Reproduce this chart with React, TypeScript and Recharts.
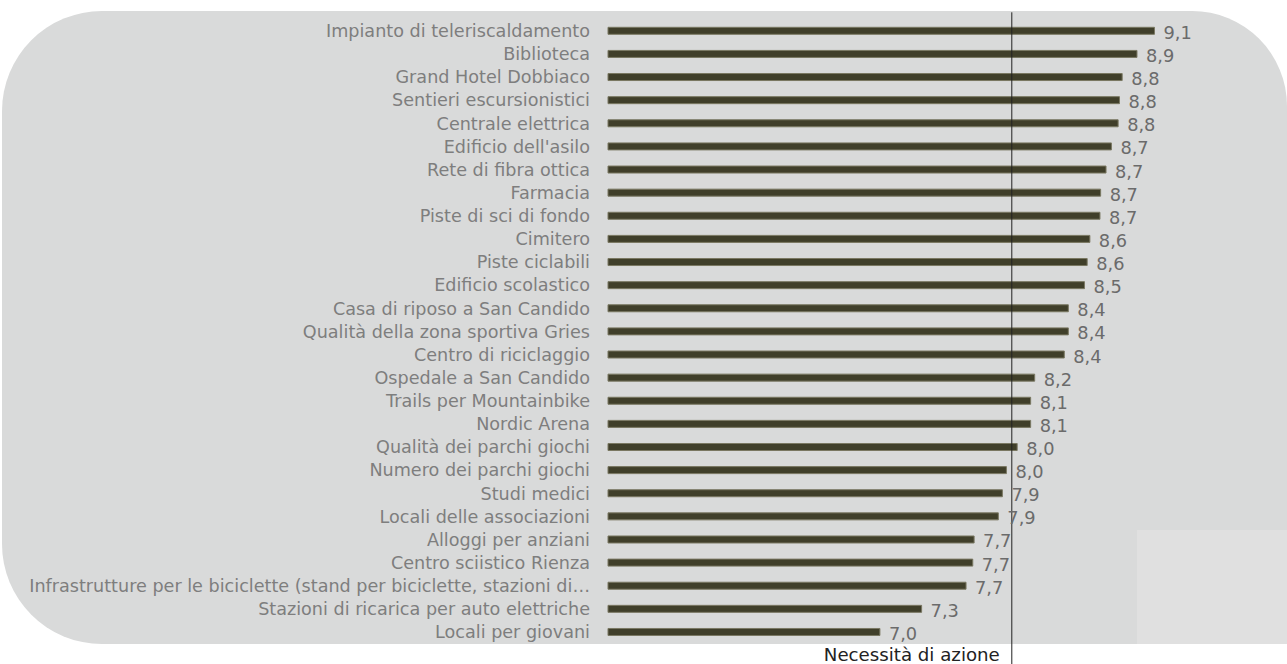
import { BarChart, Bar, XAxis, YAxis, ReferenceLine, LabelList } from "recharts";

const categories = [
  "Impianto di teleriscaldamento",
  "Biblioteca",
  "Grand Hotel Dobbiaco",
  "Sentieri escursionistici",
  "Centrale elettrica",
  "Edificio dell'asilo",
  "Rete di fibra ottica",
  "Farmacia",
  "Piste di sci di fondo",
  "Cimitero",
  "Piste ciclabili",
  "Edificio scolastico",
  "Casa di riposo a San Candido",
  "Qualità della zona sportiva Gries",
  "Centro di riciclaggio",
  "Ospedale a San Candido",
  "Trails per Mountainbike",
  "Nordic Arena",
  "Qualità dei parchi giochi",
  "Numero dei parchi giochi",
  "Studi medici",
  "Locali delle associazioni",
  "Alloggi per anziani",
  "Centro sciistico Rienza",
  "Infrastrutture per le biciclette (stand per biciclette, stazioni di…",
  "Stazioni di ricarica per auto elettriche",
  "Locali per giovani",
];

const values = [
  9.06, 8.93, 8.82, 8.8, 8.79, 8.74, 8.7, 8.66, 8.655, 8.58, 8.56, 8.54, 8.42, 8.42,
  8.39, 8.17, 8.14, 8.14, 8.04, 7.96, 7.93, 7.9, 7.72, 7.71, 7.66, 7.33, 7.02,
];

const threshold = 8.0;
const thresholdLabel = "Necessità di azione";
const axisDomain = [5, 10];

const data = categories.map((name, i) => ({ name, value: values[i] }));

const FONT = "'DejaVu Sans', Verdana, sans-serif";

const fmt = (v: number) => (Math.round(v * 10) / 10).toFixed(1).replace(".", ",");

const ValueLabel = (props: any) => {
  const { x, y, width, height, value } = props;
  return (
    <text
      x={x + width + 9}
      y={y + height / 2 + 1.5}
      dominantBaseline="central"
      fill="#6b6b6b"
      style={{ fontSize: 17.8, fontFamily: FONT }}
    >
      {fmt(value)}
    </text>
  );
};

const ThresholdLine = (props: any) => {
  const { x1, y1, y2 } = props;
  const top = Math.min(y1, y2);
  const bottom = Math.max(y1, y2);
  return (
    <g>
      <line x1={x1} x2={x1} y1={top - 7} y2={bottom + 21} stroke="#222" strokeWidth={1} />
      <text
        x={x1 - 12}
        y={bottom + 11}
        textAnchor="end"
        dominantBaseline="central"
        fill="#222"
        style={{ fontSize: 18.2, fontFamily: FONT }}
      >
        {thresholdLabel}
      </text>
    </g>
  );
};

export default function App() {
  return (
    <div style={{ position: "absolute", left: 0, top: 0, width: 1287, height: 664, background: "#fff" }}>
      {/* rounded panel behind the chart */}
      <div
        style={{
          position: "absolute",
          left: 2,
          top: 11,
          width: 1285,
          height: 633,
          background: "#d9dada",
          borderRadius: "100px 95px 0 100px",
        }}
      />
      <div
        style={{
          position: "absolute",
          left: 1137,
          top: 530,
          width: 150,
          height: 114,
          background: "#e0e0e0",
        }}
      />
      <div style={{ position: "absolute", left: 0, top: 0 }}>
        <BarChart
          width={1287}
          height={664}
          data={data}
          layout="vertical"
          margin={{ top: 19.3, right: 6, bottom: 20.4, left: 0 }}
          barCategoryGap={0}
        >
          <XAxis type="number" domain={axisDomain} hide />
          <YAxis
            type="category"
            dataKey="name"
            width={608}
            interval={0}
            tickLine={false}
            axisLine={false}
            tickSize={0}
            tickMargin={18}
            tick={{ fill: "#7e7e7e", fontSize: 17.6, fontFamily: FONT }}
          />
          <Bar
            dataKey="value"
            barSize={7}
            fill="#403f2a"
            stroke="#7a7862"
            strokeWidth={1}
            isAnimationActive={false}
          >
            <LabelList dataKey="value" content={ValueLabel} />
          </Bar>
          <ReferenceLine x={threshold} shape={ThresholdLine} ifOverflow="visible" />
        </BarChart>
      </div>
    </div>
  );
}
